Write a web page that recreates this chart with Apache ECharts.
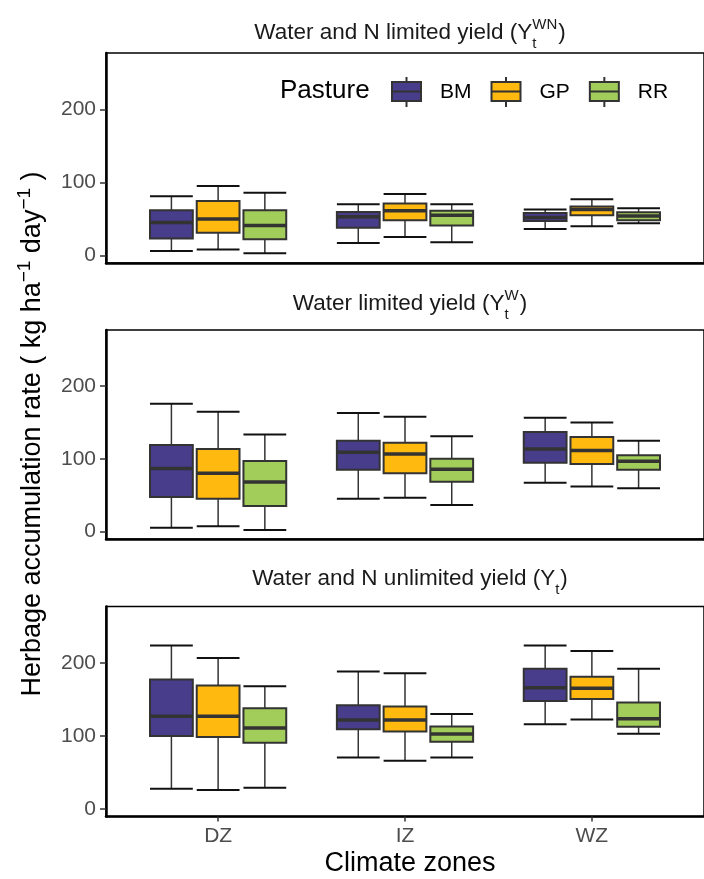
<!DOCTYPE html>
<html>
<head>
<meta charset="utf-8">
<script src="https://cdn.jsdelivr.net/npm/echarts@6/dist/echarts.min.js"></script>
<style>html,body{margin:0;padding:0;background:#fff}#c{width:704px;height:879px}</style>
</head>
<body>
<div id="c"></div>
<script>
// ---------- data ----------
const zones = ['DZ', 'IZ', 'WZ'];
const pastures = ['BM', 'GP', 'RR'];
const yTicks = [0, 100, 200];
// each entry: [lower whisker, Q1, median, Q3, upper whisker] for DZ, IZ, WZ
// Water and N limited yield (Yt^WN)
const ywnBM = [[6, 23, 45, 62, 81], [17, 38, 53, 59.5, 70], [36, 47, 52, 58, 63]];
const ywnGP = [[8, 31, 50, 74.5, 95], [25, 48, 61, 71, 84], [40, 55, 63, 67, 77]];
const ywnRR = [[3, 22, 41, 62, 86], [18, 41, 55, 61, 70], [44, 48, 54, 59, 64.5]];
// Water limited yield (Yt^W)
const ywBM = [[5, 47.5, 86.5, 119, 176], [45, 85, 109, 125, 163], [67, 94.5, 113.5, 137, 156.5]];
const ywGP = [[7, 45, 80, 113.5, 165], [46.5, 80, 106.5, 122, 158], [62, 93, 111.5, 130, 150]];
const ywRR = [[2, 35, 68, 97, 133.5], [36.5, 68.5, 85.5, 100, 131], [59.5, 85, 96.5, 105, 125]];
// Water and N unlimited yield (Yt)
const ytBM = [[27.5, 100, 127, 177.5, 224], [70.5, 109, 122, 142, 188.5], [116, 148, 166, 192, 224]];
const ytGP = [[26, 98.5, 127, 169, 207], [66, 106, 122, 140.5, 186], [122.5, 150.5, 165.5, 181, 216.5]];
const ytRR = [[29, 90.5, 111, 138, 168], [70.5, 92, 102.5, 113, 130], [103, 112.5, 123.5, 146, 192]];

const panelStats = [[ywnBM, ywnGP, ywnRR], [ywBM, ywGP, ywRR], [ytBM, ytGP, ytRR]];
const panelTitles = [
  { main: 'Water and N limited yield (Y', sub: 't', sup: 'WN' },
  { main: 'Water limited yield (Y', sub: 't', sup: 'W' },
  { main: 'Water and N unlimited yield (Y', sub: 't', sup: '' }
];

// ---------- style ----------
const FONT = '"Liberation Sans", Arial, sans-serif';
const colors = ['#483D8B', '#FFB90F', '#A2CD5A'];
const dodge = [-0.25, 0, 0.25];
const boxW = 0.229;
const grids = [
  { left: 106, top: 53, width: 608, height: 210 },
  { left: 106, top: 330, width: 608, height: 209 },
  { left: 106, top: 606.5, width: 608, height: 210 }
];
const titleY = [33, 304, 579];

function makeRender(off, color) {
  return function (params, api) {
    const x = api.value(0) + off;
    const lo = api.coord([x, api.value(1)]);
    const q1 = api.coord([x, api.value(2)]);
    const md = api.coord([x, api.value(3)]);
    const q3 = api.coord([x, api.value(4)]);
    const hi = api.coord([x, api.value(5)]);
    const hw = api.size([boxW, 0])[0] / 2;
    const cx = lo[0];
    const wh = { stroke: '#333', lineWidth: 1.5 };
    const cap = { stroke: '#111', lineWidth: 2 };
    return {
      type: 'group',
      children: [
        { type: 'line', shape: { x1: cx, y1: hi[1], x2: cx, y2: q3[1] }, style: wh },
        { type: 'line', shape: { x1: cx, y1: q1[1], x2: cx, y2: lo[1] }, style: wh },
        { type: 'line', shape: { x1: cx - hw, y1: hi[1], x2: cx + hw, y2: hi[1] }, style: cap },
        { type: 'line', shape: { x1: cx - hw, y1: lo[1], x2: cx + hw, y2: lo[1] }, style: cap },
        { type: 'rect', shape: { x: cx - hw, y: q3[1], width: 2 * hw, height: q1[1] - q3[1] },
          style: { fill: color, stroke: '#333', lineWidth: 2 } },
        { type: 'line', shape: { x1: cx - hw, y1: md[1], x2: cx + hw, y2: md[1] },
          style: { stroke: '#333', lineWidth: 3.5 } }
      ]
    };
  };
}

const ctx = document.createElement('canvas').getContext('2d');
function tw(s, size) { ctx.font = size + 'px "Liberation Sans"'; return ctx.measureText(s).width; }

const graphics = [];
panelTitles.forEach((t, i) => {
  const mainSize = 22.5, scr = 15;
  const wMain = tw(t.main, mainSize);
  const wScr = Math.max(tw(t.sub, scr), t.sup ? tw(t.sup, scr) : 0);
  const wClose = tw(')', mainSize);
  const total = wMain + wScr + 1 + wClose;
  const x0 = 410 - total / 2;
  const cy = titleY[i];
  const base = { fontFamily: FONT, fill: '#1A1A1A', verticalAlign: 'middle', textAlign: 'left' };
  graphics.push({ type: 'text', x: x0, y: cy, style: Object.assign({}, base, { text: t.main, fontSize: mainSize }) });
  graphics.push({ type: 'text', x: x0 + wMain, y: cy + 11, style: Object.assign({}, base, { text: t.sub, fontSize: scr }) });
  if (t.sup) graphics.push({ type: 'text', x: x0 + wMain, y: cy - 8, style: Object.assign({}, base, { text: t.sup, fontSize: scr }) });
  graphics.push({ type: 'text', x: x0 + wMain + wScr + 1, y: cy, style: Object.assign({}, base, { text: ')', fontSize: mainSize }) });
});
// legend title
graphics.push({ type: 'text', x: 280, y: 91, style: { text: 'Pasture', fontFamily: FONT, fontSize: 26, fill: '#000', verticalAlign: 'middle' } });
// x axis title
graphics.push({ type: 'text', x: 410, y: 864, style: { text: 'Climate zones', fontFamily: FONT, fontSize: 27, fill: '#000', textAlign: 'center', verticalAlign: 'middle' } });
// y axis title (rotated, with superscripts)
graphics.push({
  type: 'text', x: 31, y: 434, rotation: Math.PI / 2,
  style: {
    text: '{n|Herbage accumulation rate ( kg ha}{s|−1}{n| day}{s|−1}{n| )}',
    fontFamily: FONT, textAlign: 'center', verticalAlign: 'middle', fill: '#000',
    rich: {
      n: { fontSize: 27, lineHeight: 31, verticalAlign: 'bottom', fontFamily: FONT, fill: '#000' },
      s: { fontSize: 19, lineHeight: 19, verticalAlign: 'top', fontFamily: FONT, fill: '#000' }
    }
  }
});

const xAxes = grids.map((g, i) => ({
  type: 'value', gridIndex: i, min: -0.6, max: 2.6,
  splitLine: { show: false },
  axisLine: { show: true, onZero: false, lineStyle: { color: '#000', width: 2.5 } },
  axisTick: i === 2 ? { show: true, customValues: [0, 1, 2], length: 5, lineStyle: { color: '#333', width: 1.5 } } : { show: false },
  axisLabel: i === 2 ? { show: true, customValues: [0, 1, 2], formatter: v => zones[Math.round(v)], fontSize: 21, fontFamily: FONT, color: '#4D4D4D', margin: 9 } : { show: false }
}));
const yAxes = grids.map((g, i) => ({
  type: 'value', gridIndex: i, min: -10.5, max: 277.5,
  splitLine: { show: false },
  axisLine: { show: true, onZero: false, lineStyle: { color: '#000', width: 2.5 } },
  axisTick: { show: true, customValues: yTicks, length: 6, lineStyle: { color: '#333', width: 1.5 } },
  axisLabel: { show: true, customValues: yTicks, fontSize: 21, fontFamily: FONT, color: '#4D4D4D', margin: 10 }
}));

const series = [];
panelStats.forEach((stats, p) => {
  stats.forEach((arr, g) => {
    series.push({
      type: 'custom', name: pastures[g], xAxisIndex: p, yAxisIndex: p,
      data: arr.map((s, i) => [i].concat(s)),
      encode: { x: 0, y: [1, 2, 3, 4, 5] },
      itemStyle: { color: colors[g], borderColor: '#333', borderWidth: 2 },
      renderItem: makeRender(dodge[g], colors[g])
    });
  });
});

const boxIcon = 'path://M14.5,0L14.5,5M0,5L29,5L29,24L0,24ZM0,14.5L29,14.5M14.5,24L14.5,30';

const chart = echarts.init(document.getElementById('c'), null, { renderer: 'canvas' });
chart.setOption({
  animation: false,
  backgroundColor: '#fff',
  textStyle: { fontFamily: FONT },
  grid: grids.map(g => Object.assign({ show: true, borderColor: '#000', borderWidth: 1.5, backgroundColor: 'transparent', containLabel: false }, g)),
  xAxis: xAxes,
  yAxis: yAxes,
  legend: {
    show: true, left: 391, top: 76, padding: 0, itemWidth: 29, itemHeight: 30, itemGap: 19, selectedMode: false,
    data: pastures.map(n => ({ name: n, icon: boxIcon })),
    itemStyle: { borderColor: '#333', borderWidth: 2 },
    textStyle: { fontSize: 21, color: '#000', fontFamily: FONT, padding: [0, 0, 0, 14] }
  },
  graphic: graphics,
  series: series
});
</script>
</body>
</html>
